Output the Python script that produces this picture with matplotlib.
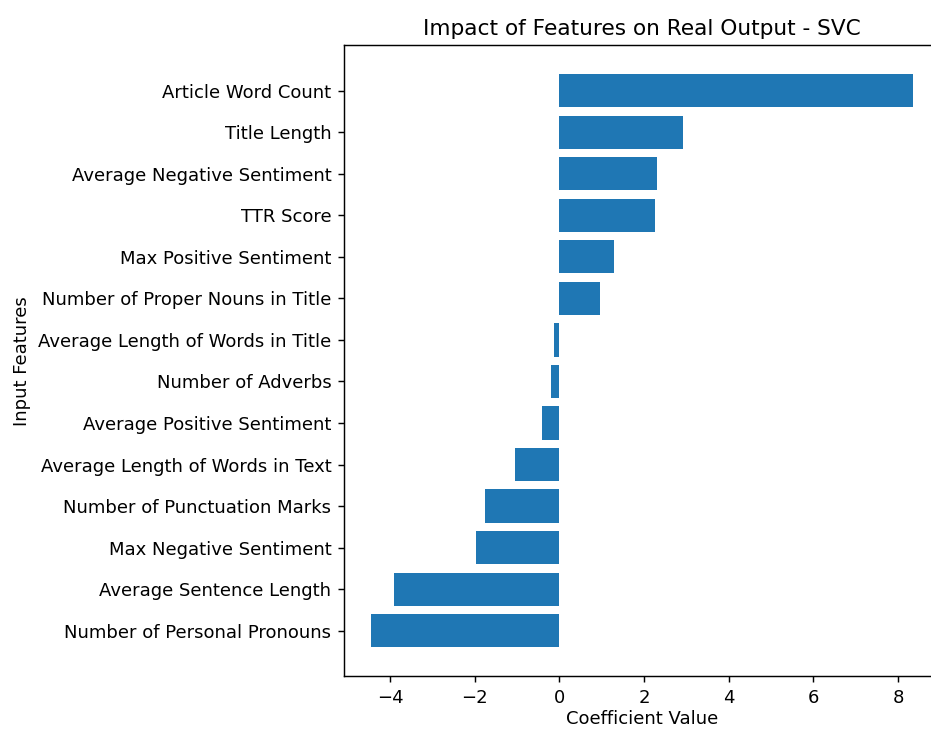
import matplotlib
matplotlib.use("Agg")
import matplotlib.pyplot as plt

features = [
    "Number of Personal Pronouns",
    "Average Sentence Length",
    "Max Negative Sentiment",
    "Number of Punctuation Marks",
    "Average Length of Words in Text",
    "Average Positive Sentiment",
    "Number of Adverbs",
    "Average Length of Words in Title",
    "Number of Proper Nouns in Title",
    "Max Positive Sentiment",
    "TTR Score",
    "Average Negative Sentiment",
    "Title Length",
    "Article Word Count",
]
coefficients = [
    -4.45, -3.92, -1.98, -1.77, -1.06, -0.41, -0.19,
    -0.13, 0.95, 1.29, 2.27, 2.30, 2.93, 8.35,
]

DPI = 130
fig = plt.figure(figsize=(931 / DPI, 729 / DPI), dpi=DPI)
ax = fig.add_axes([0.3695, 0.0727, 0.640, 0.865])

ax.barh(features, coefficients, color="#1f77b4")
ax.set_xlabel("Coefficient Value", labelpad=2)
ax.set_ylabel("Input Features")
ax.set_title("Impact of Features on Real Output - SVC")

fig.savefig("out.png", dpi=DPI)
